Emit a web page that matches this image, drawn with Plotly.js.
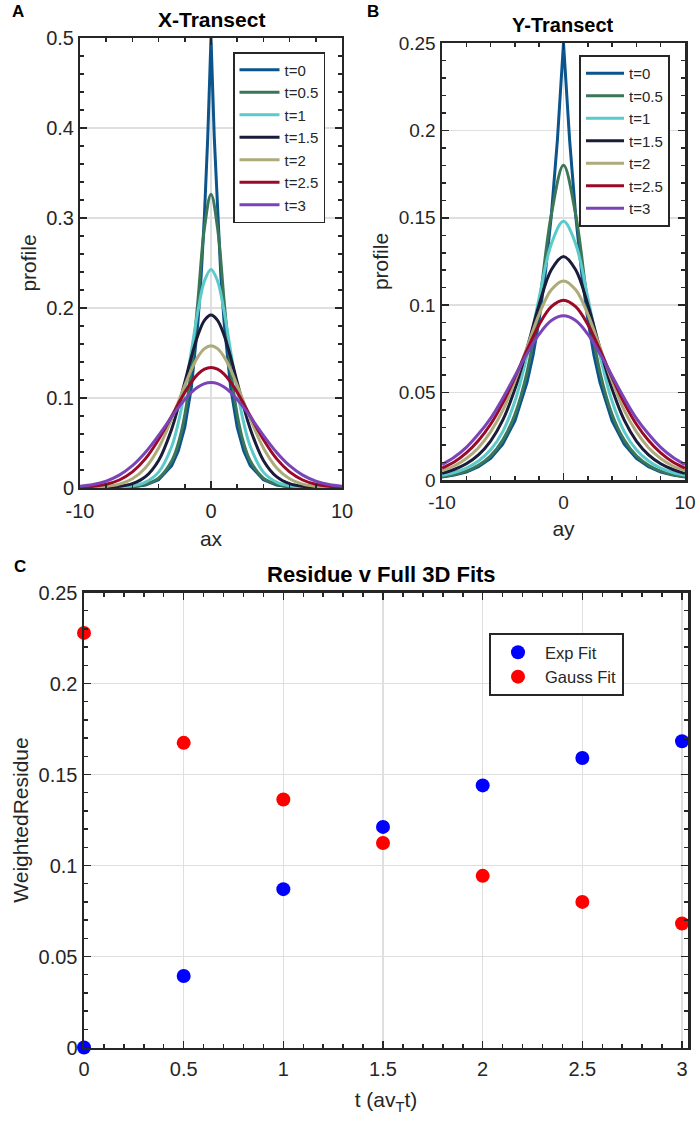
<!DOCTYPE html>
<html><head><meta charset="utf-8">
<script src="https://cdn.plot.ly/plotly-3.0.1.min.js"></script>
<style>html,body{margin:0;padding:0;background:#fff}#chart{width:698px;height:1123px}</style>
</head><body><div id="chart"></div>
<script>
// ---------- data ----------
const seriesLabels = ['t=0','t=0.5','t=1','t=1.5','t=2','t=2.5','t=3'];
const transectTickVals = [-10, 0, 10];
const transectTickText = ['-10', '0', '10'];

// Panel A (X-Transect)
const axFine = [-10,-9,-8,-7,-6,-5,-4,-3,-2.5,-2,-1.5,-1,-0.75,-0.5,-0.25,0,0.25,0.5,0.75,1,1.5,2,2.5,3,4,5,6,7,8,9,10];
const axGrid = [-10,-9,-8,-7,-6,-5,-4,-3,-2.5,-2,-1.5,-1,-0.5,0,0.5,1,1.5,2,2.5,3,4,5,6,7,8,9,10];
const profX_t0   = [0.00002,0.00006,0.00017,0.00046,0.00124,0.00337,0.00916,0.0249,0.0410,0.0677,0.1116,0.1839,0.2362,0.3033,0.3894,0.5,0.3894,0.3033,0.2362,0.1839,0.1116,0.0677,0.0410,0.0249,0.00916,0.00337,0.00124,0.00046,0.00017,0.00006,0.00002];
const profX_t05  = [0.00003,0.00007,0.0002,0.00055,0.0015,0.0041,0.0110,0.0300,0.0494,0.0814,0.1329,0.2080,0.2889,0.3263,0.2889,0.2080,0.1329,0.0814,0.0494,0.0300,0.0110,0.0041,0.0015,0.00055,0.0002,0.00007,0.00003];
const profX_t1   = [0.00004,0.00012,0.00032,0.00088,0.0024,0.0065,0.0176,0.0462,0.0723,0.1083,0.1519,0.1963,0.2301,0.2429,0.2301,0.1963,0.1519,0.1083,0.0723,0.0462,0.0176,0.0065,0.0024,0.00088,0.00032,0.00012,0.00004];
const profX_t15  = [0.00009,0.00025,0.00067,0.0018,0.0048,0.0126,0.0306,0.0656,0.0901,0.1176,0.1455,0.1697,0.1863,0.1922,0.1863,0.1697,0.1455,0.1176,0.0901,0.0656,0.0306,0.0126,0.0048,0.0018,0.00067,0.00025,0.00009];
const profX_t2   = [0.00024,0.00063,0.00165,0.0043,0.0103,0.0226,0.0445,0.0767,0.0954,0.1142,0.1316,0.1457,0.1548,0.1580,0.1548,0.1457,0.1316,0.1142,0.0954,0.0767,0.0445,0.0226,0.0103,0.0043,0.00165,0.00063,0.00024];
const profX_t25  = [0.0007,0.0018,0.0041,0.0089,0.0179,0.0326,0.0539,0.0800,0.0935,0.1064,0.1177,0.1265,0.1321,0.1340,0.1321,0.1265,0.1177,0.1064,0.0935,0.0800,0.0539,0.0326,0.0179,0.0089,0.0041,0.0018,0.0007];
const profX_t3   = [0.0018,0.0038,0.0077,0.0143,0.0248,0.0397,0.0585,0.0792,0.0893,0.0984,0.1063,0.1122,0.1160,0.1172,0.1160,0.1122,0.1063,0.0984,0.0893,0.0792,0.0585,0.0397,0.0248,0.0143,0.0077,0.0038,0.0018];

// Panel B (Y-Transect)
const ayFine = [-10,-9,-8,-7,-6,-5,-4,-3,-2.5,-2,-1.5,-1,-0.5,0,0.5,1,1.5,2,2.5,3,4,5,6,7,8,9,10];
const ayGrid = [-10,-9,-8,-7,-6,-5,-4,-3,-2,-1,0,1,2,3,4,5,6,7,8,9,10];
const profY_t0   = [0.00168,0.00278,0.00458,0.00755,0.0124,0.0205,0.0338,0.0558,0.0716,0.0920,0.1181,0.1516,0.1947,0.25,0.1947,0.1516,0.1181,0.0920,0.0716,0.0558,0.0338,0.0205,0.0124,0.00755,0.00458,0.00278,0.00168];
const profY_t05  = [0.0019,0.0031,0.0051,0.0084,0.0138,0.0228,0.0375,0.0618,0.1009,0.1519,0.180,0.1519,0.1009,0.0618,0.0375,0.0228,0.0138,0.0084,0.0051,0.0031,0.0019];
const profY_t1   = [0.0027,0.0043,0.0068,0.0109,0.0173,0.0277,0.0450,0.0712,0.1044,0.1351,0.148,0.1351,0.1044,0.0712,0.0450,0.0277,0.0173,0.0109,0.0068,0.0043,0.0027];
const profY_t15  = [0.0038,0.0060,0.0093,0.0144,0.0223,0.0342,0.0520,0.0754,0.1004,0.1203,0.1279,0.1203,0.1004,0.0754,0.0520,0.0342,0.0223,0.0144,0.0093,0.0060,0.0038];
const profY_t2   = [0.0052,0.0080,0.0123,0.0185,0.0275,0.0398,0.0565,0.0759,0.0949,0.1088,0.1139,0.1088,0.0949,0.0759,0.0565,0.0398,0.0275,0.0185,0.0123,0.0080,0.0052];
const profY_t25  = [0.0068,0.0103,0.0155,0.0226,0.0319,0.0440,0.0587,0.0744,0.0890,0.0992,0.1029,0.0992,0.0890,0.0744,0.0587,0.0440,0.0319,0.0226,0.0155,0.0103,0.0068];
const profY_t3   = [0.0088,0.0130,0.0187,0.0263,0.0353,0.0468,0.0595,0.0722,0.0834,0.0912,0.0939,0.0912,0.0834,0.0722,0.0595,0.0468,0.0353,0.0263,0.0187,0.0130,0.0088];

// Panel C (Residue v Full 3D Fits)
const tVals    = [0, 0.5, 1, 1.5, 2, 2.5, 3];
const expFit   = [0, 0.0393, 0.0870, 0.1212, 0.1440, 0.1591, 0.1683];
const gaussFit = [0.2278, 0.1674, 0.1363, 0.1124, 0.0943, 0.0800, 0.0681];

// ---------- styling ----------
const lineColors = ['#0b548c','#3b7658','#5ccaca','#1b1b3a','#adab7a','#9a0a28','#7a44b8'];
const F = '"Liberation Sans", Arial, Helvetica, sans-serif';
const TXT = '#262626';

const xA = [axFine, axGrid, axGrid, axGrid, axGrid, axGrid, axGrid];
const yA = [profX_t0, profX_t05, profX_t1, profX_t15, profX_t2, profX_t25, profX_t3];
const xB = [ayFine, ayGrid, ayGrid, ayGrid, ayGrid, ayGrid, ayGrid];
const yB = [profY_t0, profY_t05, profY_t1, profY_t15, profY_t2, profY_t25, profY_t3];

const traces = [];
seriesLabels.forEach((lab, i) => {
  traces.push({x: xA[i], y: yA[i], type: 'scatter', mode: 'lines', name: lab,
    xaxis: 'x', yaxis: 'y', legend: 'legend',
    line: {color: lineColors[i], width: 3, shape: i === 0 ? 'linear' : 'spline', smoothing: 1}});
});
seriesLabels.forEach((lab, i) => {
  traces.push({x: xB[i], y: yB[i], type: 'scatter', mode: 'lines', name: lab,
    xaxis: 'x2', yaxis: 'y2', legend: 'legend2',
    line: {color: lineColors[i], width: 3, shape: i === 0 ? 'linear' : 'spline', smoothing: 1}});
});
traces.push({x: tVals, y: expFit, type: 'scatter', mode: 'markers', name: 'Exp Fit',
  xaxis: 'x3', yaxis: 'y3', legend: 'legend3', cliponaxis: false,
  marker: {color: '#0000ff', size: 14}});
traces.push({x: tVals, y: gaussFit, type: 'scatter', mode: 'markers', name: 'Gauss Fit',
  xaxis: 'x3', yaxis: 'y3', legend: 'legend3', cliponaxis: false,
  marker: {color: '#ff0000', size: 14}});

const W = 698, H = 1123;
const px = v => v / W;
const py = v => 1 - v / H;

function axis(o) {
  return Object.assign({
    showline: true, linecolor: TXT, linewidth: 2, mirror: 'allticks',
    ticks: 'inside', ticklen: 7, tickwidth: 1.5, tickcolor: TXT,
    showgrid: true, gridcolor: '#dfdfdf', gridwidth: 1.5, zeroline: false,
    tickfont: {family: F, size: 20, color: TXT}, fixedrange: true
  }, o);
}
function minor(d) {
  return {ticks: 'inside', ticklen: 4, tickwidth: 1.5, tickcolor: TXT, dtick: d, showgrid: false};
}
const tfont = s => ({family: F, size: s, color: TXT});
function ann(text, x, y, size) {
  return {text: text, x: px(x), y: py(y), xref: 'paper', yref: 'paper', xanchor: 'center', yanchor: 'middle',
    showarrow: false, font: {family: F, size: size, color: '#000'}};
}

const layout = {
  width: W, height: H, margin: {l: 0, r: 0, t: 0, b: 0},
  paper_bgcolor: '#fff', plot_bgcolor: '#fff', showlegend: true,
  font: {family: F, color: TXT},
  xaxis: axis({domain: [px(80), px(342)], range: [-10, 10], tickvals: transectTickVals, ticktext: transectTickText,
    minor: minor(2), ticklabelstandoff: 4,
    anchor: 'y', title: {text: 'ax', font: tfont(21), standoff: 10}}),
  yaxis: axis({domain: [py(488), py(38)], range: [0, 0.5], dtick: 0.1, minor: minor(0.02),
    anchor: 'x', title: {text: 'profile', font: tfont(21), standoff: 4}}),
  xaxis2: axis({domain: [px(442), px(685)], range: [-10, 10], tickvals: transectTickVals, ticktext: transectTickText,
    minor: minor(2), ticklabelstandoff: 4,
    anchor: 'y2', linewidth: 2.5, tickfont: tfont(19), title: {text: 'ay', font: tfont(21), standoff: 9}}),
  yaxis2: axis({domain: [py(480), py(43)], range: [0, 0.25], dtick: 0.05, minor: minor(0.01),
    anchor: 'x2', linewidth: 2.5, tickfont: tfont(19), title: {text: 'profile', font: tfont(21), standoff: 5}}),
  xaxis3: axis({domain: [px(84), px(688)], range: [0, 3.03], dtick: 0.5, minor: minor(0.1),
    anchor: 'y3', linewidth: 2.5, tickfont: tfont(20), ticklabelstandoff: 2,
    title: {text: 't (av<sub>T</sub>t)', font: tfont(21), standoff: 14}}),
  yaxis3: axis({domain: [py(1047.5), py(592.5)], range: [0, 0.25], dtick: 0.05, minor: minor(0.01),
    anchor: 'x3', linewidth: 2.5, tickfont: tfont(20),
    title: {text: 'WeightedResidue', font: tfont(21), standoff: 4}}),
  legend: {x: px(233), y: py(52), xanchor: 'left', yanchor: 'top', bgcolor: '#fff',
    bordercolor: TXT, borderwidth: 1.5, font: tfont(15), tracegroupgap: 0, itemwidth: 40},
  legend2: {x: px(579), y: py(55), xanchor: 'left', yanchor: 'top', bgcolor: '#fff',
    bordercolor: TXT, borderwidth: 2, font: tfont(15), tracegroupgap: 0, itemwidth: 38},
  legend3: {x: px(489), y: py(633), xanchor: 'left', yanchor: 'top', bgcolor: '#fff',
    bordercolor: TXT, borderwidth: 2, font: tfont(16.5), tracegroupgap: 0, itemwidth: 44},
  annotations: [
    ann('<b>A</b>', 18, 12, 17),
    ann('<b>B</b>', 373, 12, 17),
    ann('<b>C</b>', 20, 566, 17),
    ann('<b>X-Transect</b>', 211, 20, 21),
    ann('<b>Y-Transect</b>', 563, 25, 20),
    ann('<b>Residue v Full 3D Fits</b>', 381, 574, 22)
  ]
};

Plotly.newPlot('chart', traces, layout, {staticPlot: true, displayModeBar: false});
</script></body></html>
